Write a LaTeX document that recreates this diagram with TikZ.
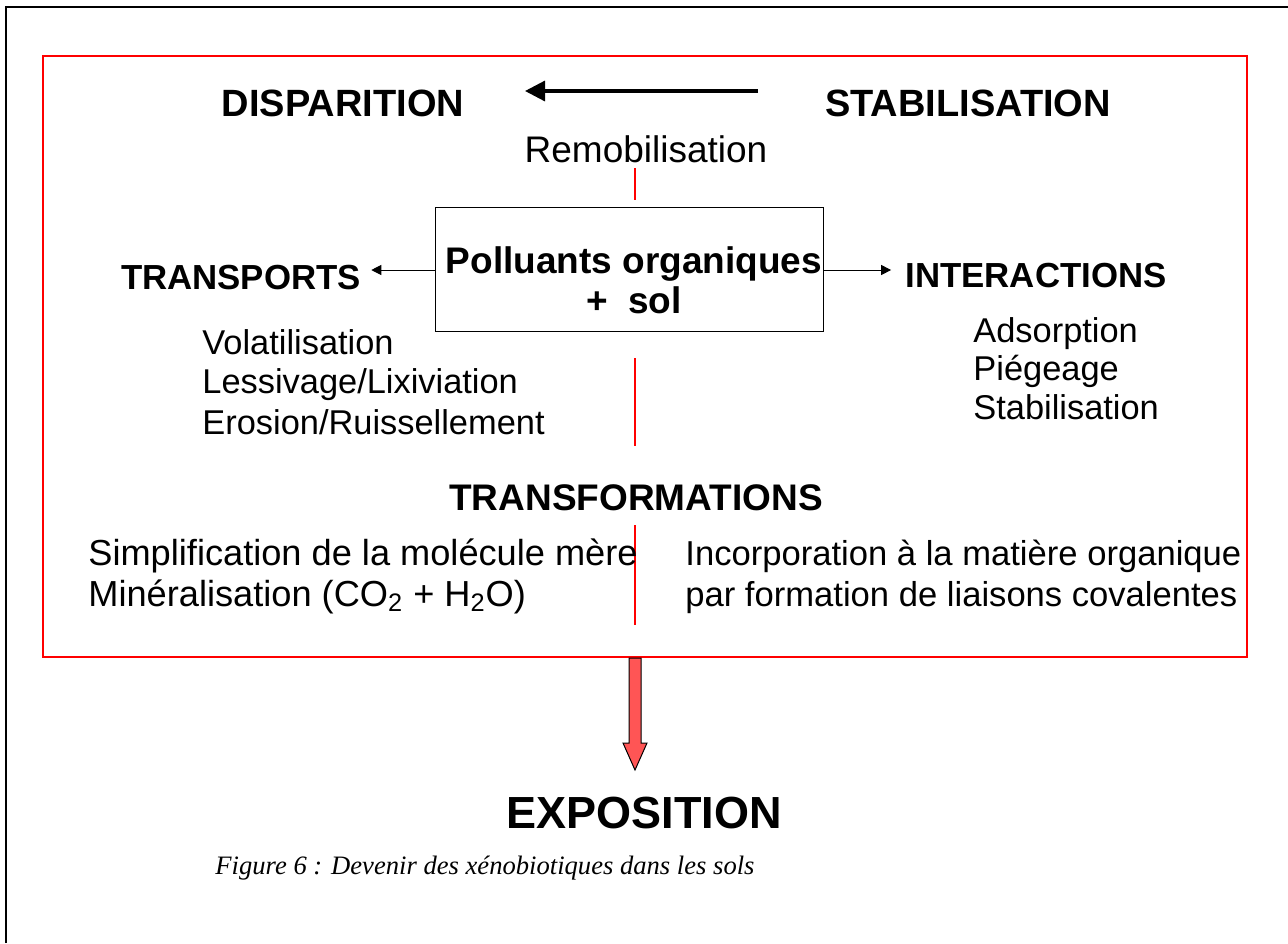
\documentclass[tikz,border=0pt]{standalone}
\usepackage{fontspec}
\setmainfont{Liberation Sans}
\newfontfamily\captionfont{Liberation Serif}
\usetikzlibrary{arrows.meta}

\definecolor{framered}{HTML}{FF0000}
\definecolor{blockred}{HTML}{FF5555}

\tikzset{
    heading/.style={font=\fontsize{18.5}{20}\selectfont\bfseries, anchor=base, inner sep=0pt},
    sidehead/.style={font=\fontsize{17.4}{20}\selectfont\bfseries, anchor=base, inner sep=0pt},
    item/.style={font=\fontsize{17.2}{20}\selectfont, anchor=base west, inner sep=0pt},
    redline/.style={framered, line width=1pt},
    smallarrow/.style={-{Triangle[length=5pt,width=5pt]}, line width=0.5pt}
}

\begin{document}
\begin{tikzpicture}[x=0.5pt,y=-0.5pt]
    \useasboundingbox (0,0) rectangle (1288,943);
    % outer page frame
    \draw[line width=1pt] (6,943) -- (6,7) -- (1288,7);
    % red frame
    \draw[redline] (43,56) rectangle (1247,657);

    % top line: stabilisation -> disparition
    \node[heading, font=\fontsize{19}{20}\selectfont\bfseries] (disp) at (343,116) {DISPARITION};
    \node[heading, font=\fontsize{19}{20}\selectfont\bfseries] (stab) at (968,116) {STABILISATION};
    \coordinate (remstart) at (758,91);
    \coordinate (remend) at (525,91);
    \draw[-{Triangle[length=10pt,width=10pt]}, line width=1.6pt] (remstart) -- (remend);
    \node[font=\fontsize{18.5}{20}\selectfont, anchor=base, inner sep=0pt] (remob) at (646,162) {Remobilisation};

    % central box
    \draw[line width=0.5pt] (435,207) rectangle (823,331);
    \node[heading] (poll) at (634,273) {Polluants organiques};
    \node[heading] (sol) at (634,313) {+~~sol};
    \coordinate (boxw) at (435,270);
    \coordinate (boxe) at (823,270);

    % transports
    \node[sidehead] (transp) at (241,289) {TRANSPORTS};
    \draw[smallarrow] (boxw) -- ([xshift=5pt]transp.east |- boxw);
    \node[item] (volat) at (202,354) {Volatilisation};
    \node[item] (lessiv) at (202,393) {Lessivage/Lixiviation};
    \node[item] (eros) at (202,434) {Erosion/Ruissellement};

    % interactions
    \node[sidehead] (inter) at (1036,287) {INTERACTIONS};
    \draw[smallarrow] (boxe) -- ([xshift=-7pt]inter.west |- boxe);
    \node[item] (adsorp) at (973,342) {Adsorption};
    \node[item] (piege) at (973,380) {Piégeage};
    \node[item] (stabil) at (973,419) {Stabilisation};

    % red separators
    \draw[redline] (635,168) -- (635,200);
    \draw[redline] (635,358) -- (635,446);
    \draw[redline] (635,525) -- (635,625);

    % transformations
    \node[heading] (transf) at (636,510) {TRANSFORMATIONS};
    \node[item, font=\fontsize{18.1}{20}\selectfont] (simpl) at (88,565) {Simplification de la molécule mère};
    \node[item, font=\fontsize{18.1}{20}\selectfont] (miner) at (88,606) {Minéralisation (CO\textsubscript{2} + H\textsubscript{2}O)};
    \node[item, font=\fontsize{17.3}{20}\selectfont] (incorp) at (685,565) {Incorporation à la matière organique};
    \node[item, font=\fontsize{17.3}{20}\selectfont] (forma) at (685,606) {par formation de liaisons covalentes};

    % block arrow to exposition
    \draw[fill=blockred, line width=0.5pt] (629,658) -- (641,658) -- (641,743) -- (647,743)
        -- (635,770) -- (623,743) -- (629,743) -- cycle;
    \node[font=\fontsize{22.5}{24}\selectfont\bfseries, anchor=base, inner sep=0pt] (expo) at (644,828) {EXPOSITION};

    % caption
    \node[font=\captionfont\itshape\fontsize{13.3}{15}\selectfont, anchor=base, inner sep=0pt] (capt) at (485,874)
        {Figure 6 : Devenir des xénobiotiques dans les sols};
\end{tikzpicture}
\end{document}
